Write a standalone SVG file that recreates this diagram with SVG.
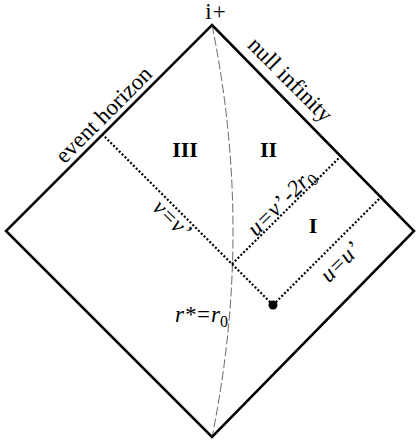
<svg xmlns="http://www.w3.org/2000/svg" width="417" height="447" viewBox="0 0 417 447">
<style>
.edge{fill:none;stroke:#000;stroke-width:2.5;stroke-linejoin:miter}
.dot{fill:none;stroke:#000;stroke-width:2.2;stroke-dasharray:2 2}
.curve{fill:none;stroke:#444;stroke-width:0.8;stroke-dasharray:9 3}
.t{font-family:"Liberation Serif","Times New Roman",serif;font-size:23px;fill:#000}
.it{font-style:italic}
.rn{font-weight:bold;font-size:22px;text-anchor:middle}
.m{text-anchor:middle}
</style>
<rect width="417" height="447" fill="#fff"/>
<g id="spacetime">
<path class="edge" d="M212,25 L414,231 L212,437 L6,231 Z"/>
</g>
<g id="connectors">
<path class="curve" d="M212,25 Q254,231 212,437"/>
<path class="dot" d="M102,134 L273,305"/>
<path class="dot" d="M273,305 L383,195"/>
<path class="dot" d="M232,264 L342,155"/>
</g>
<g id="event">
<circle cx="273" cy="305" r="4.5" fill="#000"/>
</g>
<g id="labels">
<text class="t m" x="216" y="19" font-size="20" letter-spacing="1">i+</text>
<text class="t m" transform="translate(290,80) rotate(45)" y="7">null infinity</text>
<text class="t m" transform="translate(104,115) rotate(-45)" y="7">event horizon</text>
<text class="t rn" x="185" y="157">III</text>
<text class="t rn" x="268.5" y="157">II</text>
<text class="t rn" x="313" y="233">I</text>
<text class="t it m" transform="translate(341,263) rotate(-45)" y="6">u=u’</text>
<text class="t it m" transform="translate(282,203) rotate(-45)" y="6">u=v’ -2r<tspan font-size="17" font-style="normal" dy="5">0</tspan></text>
<text class="t it m" transform="translate(171,220) rotate(45)" y="6">v=v’</text>
<text class="t it" x="175" y="322" font-size="22">r*=r<tspan font-size="16" font-style="normal" dy="5">0</tspan></text>
</g>
</svg>
